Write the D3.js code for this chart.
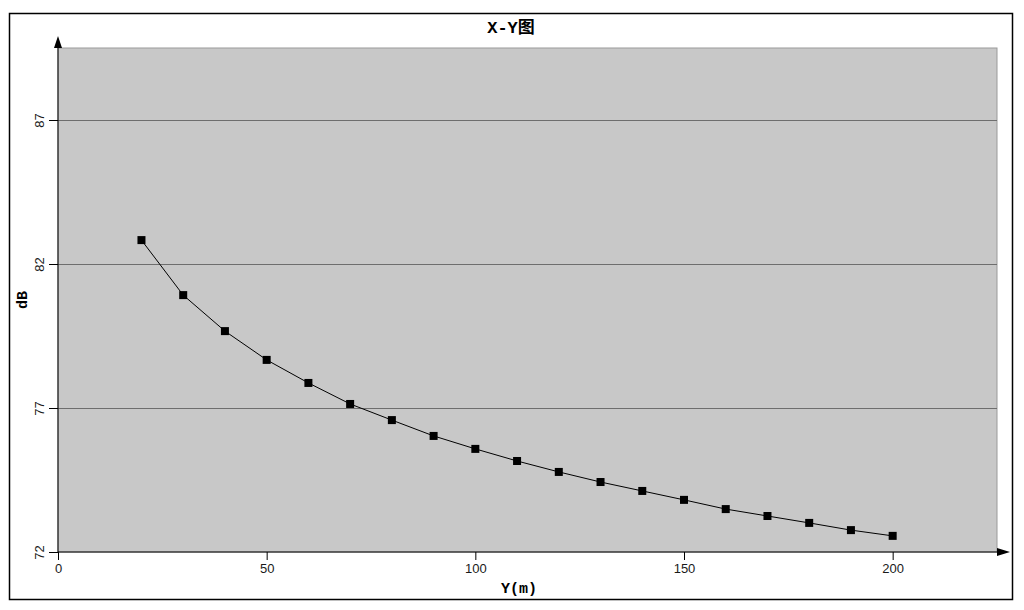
<!DOCTYPE html>
<html>
<head>
<meta charset="utf-8">
<script src="https://cdn.jsdelivr.net/npm/d3@7"></script>
<style>
  body { margin: 0; background: #fff; }
  svg { display: block; }
  .tick text { font-family: "Liberation Sans", Arial, sans-serif; font-size: 13px; fill: #1a1a1a; }
  .ttl { font-family: "Liberation Mono", "Noto Sans CJK SC", monospace; font-weight: bold; fill: #000; }
</style>
</head>
<body>
<div id="chart"></div>
<script>
// distance vs level
const distances = [20, 30, 40, 50, 60, 70, 80, 90, 100, 110, 120, 130, 140, 150, 160, 170, 180, 190, 200];
const levels = [82.83, 80.92, 79.67, 78.67, 77.87, 77.14, 76.58, 76.03, 75.58, 75.16, 74.78, 74.43, 74.12, 73.81, 73.49, 73.25, 73.01, 72.76, 72.56];
const xTicks = [0, 50, 100, 150, 200];
const yTicks = [72, 77, 82, 87];
const chartTitle = 'X-Y图';
const xTitle = 'Y(m)';
const yTitle = 'dB';

const width = 1024, height = 610;
const margin = { top: 48, left: 58, right: 27, bottom: 58 };

const svg = d3.select('#chart').append('svg')
    .attr('width', width)
    .attr('height', height);

// outer frame
svg.append('rect')
    .attr('x', 9.5).attr('y', 13.5)
    .attr('width', 1003).attr('height', 586)
    .attr('fill', 'none').attr('stroke', '#000').attr('stroke-width', 1.5);

const x = d3.scaleLinear().domain([0, 225]).range([margin.left, width - margin.right]);
const y = d3.scaleLinear().domain([72, 89.5]).range([height - margin.bottom, margin.top]);

// plot background
svg.append('rect')
    .attr('x', x(0)).attr('y', y(89.5))
    .attr('width', x(225) - x(0)).attr('height', y(72) - y(89.5))
    .attr('fill', '#c8c8c8')
    .attr('stroke', '#9a9a9a');

// grid
svg.append('g')
  .selectAll('line')
  .data(yTicks.slice(1))
  .enter()
  .append('line')
    .attr('x1', x(0)).attr('x2', x(225))
    .attr('y1', d => Math.round(y(d)) + 0.5).attr('y2', d => Math.round(y(d)) + 0.5)
    .attr('stroke', '#6e6e6e');

// axes
const xAxis = d3.axisBottom(x).tickValues(xTicks).tickSize(8).tickSizeOuter(0).tickPadding(4);
const yAxis = d3.axisLeft(y).tickValues(yTicks).tickSize(9).tickSizeOuter(0);

const gx = svg.append('g')
    .attr('transform', 'translate(0,' + y(72) + ')')
    .call(xAxis);
gx.select('.domain').remove();

const gy = svg.append('g')
    .attr('transform', 'translate(' + x(0) + ',0)')
    .call(yAxis);
gy.select('.domain').remove();
gy.selectAll('.tick text')
    .attr('text-anchor', 'middle')
    .attr('transform', 'translate(-19,0) rotate(-90)')
    .attr('x', 0).attr('y', 0).attr('dy', '0.35em');

// axis lines with arrows
svg.append('line')
    .attr('x1', x(0)).attr('x2', x(0))
    .attr('y1', y(72)).attr('y2', 40)
    .attr('stroke', '#000');
svg.append('path')
    .attr('d', 'M' + x(0) + ',36 L' + (x(0) - 4) + ',48 L' + (x(0) + 4) + ',48 Z')
    .attr('fill', '#000');
svg.append('line')
    .attr('x1', x(0)).attr('x2', 1005)
    .attr('y1', y(72)).attr('y2', y(72))
    .attr('stroke', '#000');
svg.append('path')
    .attr('d', 'M1010,' + y(72) + ' L997,' + (y(72) - 4) + ' L997,' + (y(72) + 4) + ' Z')
    .attr('fill', '#000');

// series
const pts = distances.map((d, i) => [d, levels[i]]);
const line = d3.line().x(d => x(d[0])).y(d => y(d[1]));

svg.append('path')
    .datum(pts)
    .attr('d', line)
    .attr('fill', 'none')
    .attr('stroke', '#000')
    .attr('stroke-width', 1);

svg.selectAll('rect.mk')
  .data(pts)
  .enter()
  .append('rect')
    .attr('class', 'mk')
    .attr('x', d => x(d[0]) - 4)
    .attr('y', d => y(d[1]) - 4)
    .attr('width', 8).attr('height', 8)
    .attr('fill', '#000');

// titles
svg.append('text').attr('class', 'ttl')
    .attr('x', 511).attr('y', 33)
    .attr('text-anchor', 'middle')
    .style('font-size', '17px')
    .text(chartTitle);

svg.append('text').attr('class', 'ttl')
    .attr('x', 519).attr('y', 593)
    .attr('text-anchor', 'middle')
    .style('font-size', '15px')
    .text(xTitle);

svg.append('text').attr('class', 'ttl')
    .attr('transform', 'translate(27,300) rotate(-90)')
    .attr('text-anchor', 'middle')
    .style('font-size', '15px')
    .text(yTitle);
</script>
</body>
</html>
